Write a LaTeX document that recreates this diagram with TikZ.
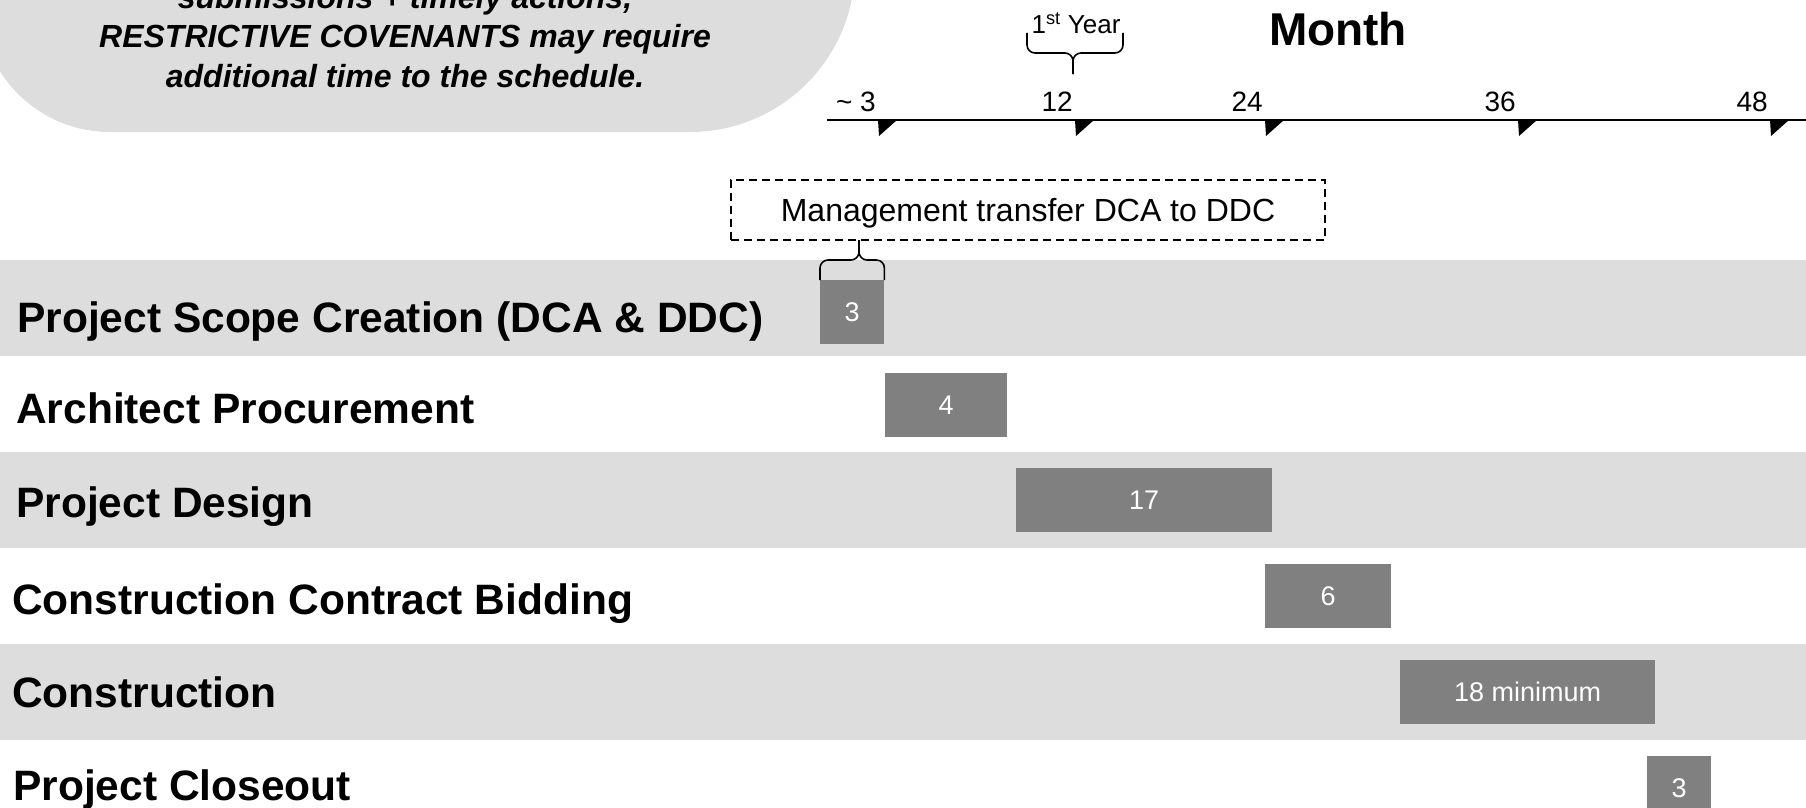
\documentclass[tikz,border=0pt]{standalone}
\usepackage{fontspec}
\setmainfont{Liberation Sans}
\usepackage{xcolor}
\usepackage{tikz}
\definecolor{bandgray}{RGB}{221,221,221}
\definecolor{bargray}{RGB}{128,128,128}

\begin{document}
\begin{tikzpicture}[x=1pt,y=1pt,every node/.style={inner sep=0pt},
	rowlabel/.style={anchor=base west,font=\fontsize{42.5}{50}\selectfont\bfseries},
	gantbar/.style={fill=bargray,text=white,anchor=north west,minimum height=63.5pt,font=\fontsize{27}{32}\selectfont},
	ticklabel/.style={anchor=base east,font=\fontsize{28}{33}\selectfont},
	notetext/.style={anchor=base,font=\fontsize{32}{39}\selectfont\bfseries\itshape},
	bracket/.style={line width=1.6pt,rounded corners=8pt}]
\useasboundingbox (0,0) rectangle (1806,-808);
\clip (0,0) rectangle (1806,-808);
\fill[bandgray] (-20,40) -- (-20,-2) arc[start angle=180,end angle=270,radius=130]
	-- (690,-132) arc[start angle=270,end angle=360,radius=165] -- (855,40) -- cycle;
\foreach \y in {260,452,644}
	\fill[bandgray] (0,-\y) rectangle (1806,-\y-96);
\node[notetext] (n1) at (405,-9) {submissions + timely actions,};
\node[notetext] (n2) at (405,-48) {RESTRICTIVE COVENANTS may require};
\node[notetext] (n3) at (405,-87) {additional time to the schedule.};
\node[anchor=base,font=\fontsize{46}{55}\selectfont\bfseries] (month) at (1338,-46) {Month};
\node[anchor=base,font=\fontsize{26}{30}\selectfont] (year) at (1076,-34) {1\textsuperscript{st} Year};
\coordinate (yrl) at (1027,-33);
\coordinate (yrr) at (1123,-33);
\coordinate (yrtip) at (1073,-74);
\draw[bracket] (yrl) -- ++(0,-20) -| (yrtip);
\draw[bracket] (yrr) -- ++(0,-20) -| (yrtip);
\coordinate (axl) at (827,-120);
\coordinate (axr) at (1806,-120);
\draw[line width=2pt] (axl) -- (axr);
\foreach \x/\lbl [count=\i] in {878/{\textasciitilde\ 3},1075/12,1265/24,1518/36,1770/48}{
	\node[ticklabel] (t\i) at (\x-2,-111) {\lbl};
	\fill (\x,-120) -- ++(19,0) -- (\x+1,-136) -- cycle;
}
\node[draw,dash pattern=on 8pt off 5pt,line width=1.5pt,minimum width=594pt,minimum height=60pt,
	text depth=0pt,font=\fontsize{32}{37}\selectfont] (transfer) at (1028,-210) {Management transfer DCA to DDC};
\node[rowlabel] (r1) at (17,-332) {Project Scope Creation (DCA \& DDC)};
\node[rowlabel] (r2) at (16,-423) {Architect Procurement};
\node[rowlabel] (r3) at (16,-517) {Project Design};
\node[rowlabel] (r4) at (12,-614) {Construction Contract Bidding};
\node[rowlabel] (r5) at (12,-707) {Construction};
\node[rowlabel] (r6) at (13,-800) {Project Closeout};
\foreach \n/\x/\y/\w/\t in {b1/820/280/64/3,b2/885/373/122/4,b3/1016/468/256/17,
	b4/1265/564/126/6,b5/1400/660/255/18 minimum,b6/1647/756/64/3}
	\node[gantbar,minimum width=\w pt] (\n) at (\x,-\y) {\t};
\coordinate (trtip) at (859,-240);
\draw[bracket] (b1.north west) -- ++(0,20) -| (trtip);
\draw[bracket] (b1.north east) -- ++(0,20) -| (trtip);
\end{tikzpicture}
\end{document}
